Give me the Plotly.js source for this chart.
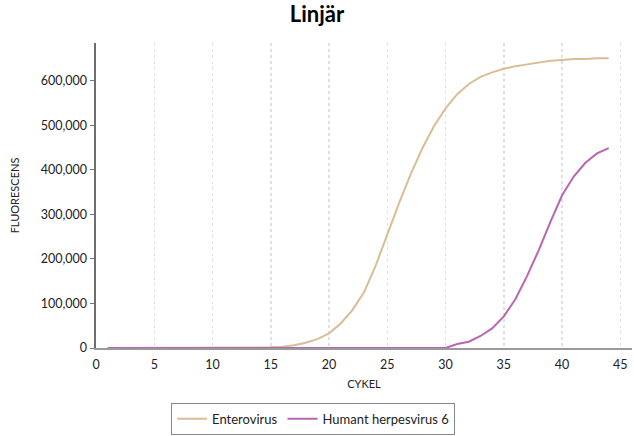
<!DOCTYPE html>
<html><head><meta charset="utf-8">
<script src="https://cdn.plot.ly/plotly-3.0.1.min.js"></script>
<style>body{margin:0;}#c{width:634px;height:436px;}</style>
</head><body><div id="c"></div>
<script>
const cycles = [1,2,3,4,5,6,7,8,9,10,11,12,13,14,15,16,17,18,19,20,21,22,23,24,25,26,27,28,29,30,31,32,33,34,35,36,37,38,39,40,41,42,43,44];
const enterovirus = [0,0,0,0,0,0,0,0,0,0,0,0,0,500,1500,3000,6000,12000,20000,33000,55000,85000,125000,185000,255000,325000,390000,448000,498000,538000,570000,593000,609000,619000,627000,633000,637000,641000,645000,647000,649000,649000,651000,651000];
const hhv6 = [0,0,0,0,0,0,0,0,0,0,0,0,0,0,0,0,0,0,0,0,0,0,0,0,0,0,0,0,0,0,9000,14000,27000,44000,71000,110000,162000,220000,283000,343000,385000,416000,437000,449000];
const seriesNames = ['Enterovirus','Humant herpesvirus 6'];
const xTicks = [0,5,10,15,20,25,30,35,40,45];
const yTicks = [0,100000,200000,300000,400000,500000,600000];

const F = 'Lato, "Open Sans", sans-serif';
const data = [
  {x: cycles, y: enterovirus, name: seriesNames[0], type: 'scatter', mode: 'lines',
   line: {color: '#d9bd96', width: 2}},
  {x: cycles, y: hhv6, name: seriesNames[1], type: 'scatter', mode: 'lines',
   line: {color: '#b866b2', width: 2}}
];
const layout = {
  width: 634, height: 436,
  margin: {l: 96, r: 2, t: 43, b: 87},
  paper_bgcolor: '#fff', plot_bgcolor: '#fff',
  font: {family: F, size: 12, color: '#222'},
  title: {text: '<b>Linjär</b>', x: 0.5, xanchor: 'center', y: 0.985, yanchor: 'top',
          font: {family: F, size: 22, color: '#000'}},
  xaxis: {range: [0, 46], tickvals: xTicks, ticktext: xTicks.map(String), automargin: false,
          showgrid: true, gridcolor: '#e0e0e0', griddash: 'dot', gridwidth: 1.5,
          zeroline: false, showline: true, linecolor: '#9a9a9a', linewidth: 1.5,
          ticks: '', ticklabelstandoff: 4, tickfont: {size: 12.5, color: '#222'},
          title: {text: 'CYKEL', font: {size: 11, color: '#222'}, standoff: 10}},
  yaxis: {range: [0, 685000], tickvals: yTicks, tickformat: ',d', automargin: false,
          showgrid: false, zeroline: false, showline: true, linecolor: '#6e6e6e', linewidth: 2.5,
          ticks: 'outside', ticklen: 4, tickcolor: '#777', tickfont: {size: 12.5, color: '#222'},
          title: {text: 'FLUORESCENS', font: {size: 11, color: '#222'}, standoff: 19}},
  legend: {orientation: 'h', x: 0.405, xanchor: 'center', y: -0.176, yanchor: 'top',
           bordercolor: '#888', borderwidth: 1, font: {size: 13, color: '#222'}},
  showlegend: true
};
Plotly.newPlot('c', data, layout, {displayModeBar: false, staticPlot: true});
</script></body></html>
